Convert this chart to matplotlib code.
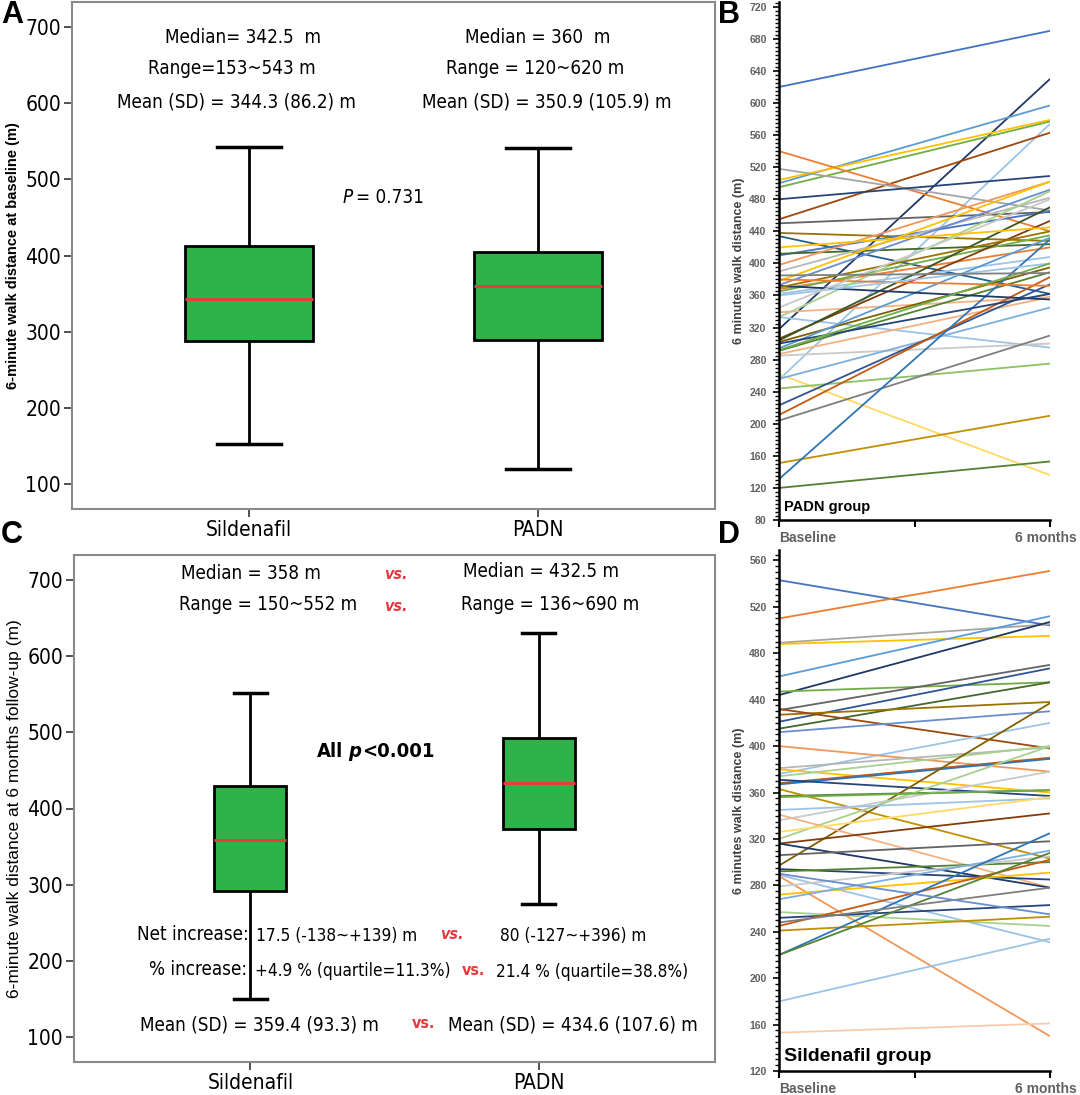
import os
import matplotlib
matplotlib.use("Agg")
import matplotlib.pyplot as plt
from matplotlib import font_manager
from matplotlib.font_manager import FontProperties
from matplotlib.ticker import MultipleLocator

# ---------------- data ----------------
groups = ["Sildenafil", "PADN"]

# Panel A: baseline 6MWD box stats
base_whislo = [153, 120]
base_q1 = [288, 289]
base_med = [342.5, 360]
base_q3 = [412, 404]
base_whishi = [543, 541]

# Panel C: 6-month 6MWD box stats
fu_whislo = [150, 275]
fu_q1 = [291, 373]
fu_med = [358, 433]
fu_q3 = [430, 492]
fu_whishi = [552, 630]

# Panel B: PADN group individual trajectories
padn_base = [620, 318, 500, 504, 495, 255, 455, 540, 518, 480, 450, 438, 434, 410, 412,
             398, 390, 378, 373, 368, 365, 362, 339, 333, 333, 306, 304, 302, 294, 291,
             287, 285, 262, 256, 244, 223, 211, 204, 151, 131, 120, 372, 370, 380, 360,
             345, 300, 292, 420, 385]
padn_6m = [690, 630, 597, 579, 577, 574, 563, 440, 466, 509, 464, 428, 362, 465, 424,
           502, 482, 502, 492, 420, 435, 408, 358, 490, 295, 453, 470, 395, 432, 389,
           358, 300, 136, 345, 275, 374, 383, 310, 210, 430, 153, 355, 440, 372, 400,
           480, 362, 400, 445, 388]
padn_colors = ["#4472C4", "#203864", "#5B9BD5", "#FFC000", "#70AD47", "#9DC3E6", "#9E480E",
               "#ED7D31", "#A5A5A5", "#264478", "#636363", "#997300", "#255E91", "#4472C4",
               "#43682B", "#F1975A", "#B7B7B7", "#FFC000", "#698ED0", "#ED7D31", "#70AD47",
               "#9DC3E6", "#F4B183", "#A9D18E", "#9DC3E6", "#843C0C", "#375623", "#7F6000",
               "#5B9BD5", "#548235", "#F4B183", "#C9C9C9", "#FFD966", "#7CAFDD", "#8CC168",
               "#2F5597", "#C55A11", "#7F7F7F", "#BF9000", "#2E75B6", "#548235", "#1F3864",
               "#997300", "#ED7D31", "#9DC3E6", "#C9C9C9", "#264478", "#70AD47", "#FFC000",
               "#7F7F7F"]

# Panel D: Sildenafil group individual trajectories
sil_base = [543, 510, 489, 488, 460, 444, 447, 431, 421, 415, 427, 432, 412, 376, 400,
            381, 380, 374, 368, 367, 371, 357, 363, 297, 336, 320, 345, 341, 326, 316,
            316, 306, 294, 292, 289, 288, 279, 272, 268, 257, 252, 245, 241, 220, 220,
            180, 153, 248, 290, 356]
sil_6m = [504, 551, 505, 495, 512, 507, 455, 470, 467, 455, 438, 398, 430, 420, 378,
          399, 360, 400, 390, 389, 357, 362, 303, 437, 378, 400, 355, 278, 356, 342,
          278, 318, 285, 300, 231, 150, 305, 291, 310, 245, 263, 302, 253, 325, 308,
          234, 161, 278, 255, 362]
sil_colors = ["#4472C4", "#ED7D31", "#A5A5A5", "#FFC000", "#5B9BD5", "#203864", "#70AD47",
              "#636363", "#2F5597", "#43682B", "#997300", "#9E480E", "#698ED0", "#9DC3E6",
              "#F1975A", "#B7B7B7", "#FFC000", "#A9D18E", "#C55A11", "#2E75B6", "#264478",
              "#548235", "#BF9000", "#7F6000", "#C9C9C9", "#A9D18E", "#9DC3E6", "#F4B183",
              "#FFD966", "#843C0C", "#1F3864", "#636363", "#264478", "#548235", "#9DC3E6",
              "#F1975A", "#C9C9C9", "#FFC000", "#7CAFDD", "#A9D18E", "#264478", "#C55A11",
              "#BF9000", "#2E75B6", "#548235", "#9DC3E6", "#F8CBAD", "#7F7F7F", "#698ED0",
              "#70AD47"]

time_labels = ["Baseline", "6 months"]

# ---------------- fonts ----------------
names = {f.name for f in font_manager.fontManager.ttflist}
SANS = "Liberation Sans" if "Liberation Sans" in names else "DejaVu Sans"
SF = [SANS, "DejaVu Sans"]


def find_font(keys):
    for key in keys:
        for f in font_manager.fontManager.ttflist:
            if os.path.basename(f.fname).lower() == key.lower():
                return f.fname
    return None


COND = {
    "r": find_font(["LiberationSansNarrow-Regular.ttf", "DejaVuSansCondensed.ttf"]),
    "b": find_font(["LiberationSansNarrow-Bold.ttf", "DejaVuSansCondensed-Bold.ttf"]),
    "i": find_font(["LiberationSansNarrow-Italic.ttf", "DejaVuSansCondensed-Oblique.ttf"]),
    "bi": find_font(["LiberationSansNarrow-BoldItalic.ttf",
                     "DejaVuSansCondensed-BoldOblique.ttf"]),
}


def nfp(size, kind="r"):
    path = COND.get(kind)
    if path:
        return FontProperties(fname=path, size=size)
    return FontProperties(family=SF, size=size * 0.86,
                          weight="bold" if "b" in kind else "normal",
                          style="italic" if "i" in kind else "normal")


W, H = 1080, 1095
fig = plt.figure(figsize=(W / 100, H / 100), dpi=100)


def fax(l, t, r, b):
    return fig.add_axes([l / W, 1 - b / H, (r - l) / W, (b - t) / H])


GREEN = "#2DB34A"
RED = "#E0403A"
VSRED = "#E8383D"


def rich(ax, x, y, parts):
    """parts: list of (string, fontprops, color, gap_points)"""
    s, fp, col, _ = parts[0]
    prev = ax.text(x, y, s, fontproperties=fp, color=col, ha="left", va="center")
    for s, fp, col, gap in parts[1:]:
        prev = ax.annotate(s, xy=(1, 0), xycoords=prev, xytext=(gap, 0),
                           textcoords="offset points", fontproperties=fp, color=col,
                           ha="left", va="bottom")


def boxpanel(ax, whislo, q1, med, q3, whishi, width, capw):
    stats = []
    for i in range(len(groups)):
        stats.append(dict(whislo=whislo[i], q1=q1[i], med=med[i], q3=q3[i],
                          whishi=whishi[i], fliers=[]))
    ax.bxp(stats, positions=[1, 2], widths=width, capwidths=capw, patch_artist=True,
           showfliers=False,
           boxprops=dict(facecolor=GREEN, edgecolor="black", linewidth=2),
           medianprops=dict(color=RED, linewidth=2.2),
           whiskerprops=dict(color="black", linewidth=2),
           capprops=dict(color="black", linewidth=2.5))
    ax.set_xlim(0.3875, 2.6125)
    ax.set_ylim(67, 733)
    ax.set_yticks([100, 200, 300, 400, 500, 600, 700])
    ax.set_xticks([1, 2])
    ax.set_xticklabels(groups)
    for lab in ax.get_xticklabels() + ax.get_yticklabels():
        lab.set_fontproperties(nfp(15))
    ax.tick_params(axis="both", direction="out", length=6, width=1.2, color="#333333", pad=2)
    for s in ax.spines.values():
        s.set_color("#8a8a8a")
        s.set_linewidth(1.5)


MAIN = 13.5
NUM = 12.3

# ---------------- Panel A ----------------
axA = fax(72, 2, 715, 509)
boxpanel(axA, base_whislo, base_q1, base_med, base_q3, base_whishi, 0.44, 0.22)
axA.set_ylabel("6-minute walk distance at baseline (m)", fontfamily=SF, fontweight="bold",
               fontsize=10.5, labelpad=4)
tA = dict(fontproperties=nfp(MAIN), ha="center", va="center")
axA.text(0.98, 686, "Median= 342.5  m", **tA)
axA.text(0.94, 646, "Range=153~543 m", **tA)
axA.text(0.955, 601, "Mean (SD) = 344.3 (86.2) m", **tA)
axA.text(2.0, 686, "Median = 360  m", **tA)
axA.text(1.99, 646, "Range = 120~620 m", **tA)
axA.text(2.03, 601, "Mean (SD) = 350.9 (105.9) m", **tA)
rich(axA, 1.322, 476, [("P", nfp(MAIN, "i"), "black", 0),
                       ("= 0.731", nfp(MAIN), "black", 3)])

# ---------------- Panel C ----------------
axC = fax(74, 555, 715, 1062)
boxpanel(axC, fu_whislo, fu_q1, fu_med, fu_q3, fu_whishi, 0.25, 0.115)
axC.set_ylabel("6-minute walk distance at 6 months follow-up (m)", fontfamily=SF,
               fontsize=12.5, labelpad=4)
tC = dict(fontproperties=nfp(MAIN), va="center")
tN = dict(fontproperties=nfp(NUM), va="center")
vs_i = dict(fontproperties=nfp(11.5, "bi"), color=VSRED, va="center", ha="center")
vs_n = dict(fontproperties=nfp(11.5, "b"), color=VSRED, va="center", ha="center")
axC.text(1.0, 709, "Median = 358 m", ha="center", **tC)
axC.text(1.503, 707, "vs.", **vs_i)
axC.text(2.01, 711, "Median = 432.5 m", ha="center", **tC)
axC.text(1.06, 668, "Range = 150~552 m", ha="center", **tC)
axC.text(1.503, 665, "vs.", **vs_i)
axC.text(2.04, 668, "Range = 136~690 m", ha="center", **tC)
rich(axC, 1.229, 475, [("All", nfp(14.5, "b"), "black", 0),
                       ("p", nfp(14.5, "bi"), "black", 4),
                       ("<0.001", nfp(14.5, "b"), "black", 0.5)])
axC.text(0.995, 234, "Net increase:", ha="right", **tC)
axC.text(1.02, 232, "17.5 (-138~+139) m", ha="left", **tN)
axC.text(1.70, 234, "vs.", **vs_i)
axC.text(1.865, 232, "80 (-127~+396) m", ha="left", **tN)
axC.text(0.988, 189, "% increase:", ha="right", **tC)
axC.text(1.017, 186, "+4.9 % (quartile=11.3%)", ha="left", **tN)
axC.text(1.774, 187, "vs.", **vs_n)
axC.text(1.854, 185, "21.4 % (quartile=38.8%)", ha="left", **tN)
axC.text(1.03, 116, "Mean (SD) = 359.4 (93.3) m", ha="center", **tC)
axC.text(1.60, 118, "vs.", **vs_n)
axC.text(2.12, 116, "Mean (SD) = 434.6 (107.6) m", ha="center", **tC)


# ---------------- spaghetti panels ----------------
def spaghetti(ax, base, six, colors, ylim, group_label, gl_size):
    for b, s, c in zip(base, six, colors):
        ax.plot([0, 1], [b, s], color=c, linewidth=1.3, solid_capstyle="butt")
    ax.set_xlim(0, 1)
    ax.set_ylim(*ylim)
    ax.spines["top"].set_visible(False)
    ax.spines["right"].set_visible(False)
    ax.spines["left"].set_linewidth(1.8)
    ax.spines["bottom"].set_linewidth(1.8)
    ax.yaxis.set_major_locator(MultipleLocator(40))
    ax.yaxis.set_minor_locator(MultipleLocator(5))
    ax.set_xticks([0, 0.5, 1])
    ax.set_xticklabels([])
    ax.tick_params(axis="y", which="major", length=4, width=1.2, labelsize=7.5, pad=5,
                   labelcolor="#606060")
    ax.tick_params(axis="y", which="minor", length=3, width=1.0)
    ax.tick_params(axis="x", length=5, width=1.5)
    for lab in ax.get_yticklabels():
        lab.set_fontfamily(SF)
        lab.set_fontweight("bold")
    ax.set_ylabel("6 minutes walk distance (m)", fontfamily=SF, fontweight="bold",
                  fontsize=9, color="#404040", labelpad=3)
    ax.text(0.02, 0.012, group_label, transform=ax.transAxes, fontfamily=SF,
            fontweight="bold", fontsize=gl_size, ha="left", va="bottom")
    ax.text(0.0, -0.022, time_labels[0], transform=ax.transAxes, fontfamily=SF,
            fontweight="bold", fontsize=10, color="#606060", ha="left", va="top")
    ax.text(1.1, -0.022, time_labels[1], transform=ax.transAxes, fontfamily=SF,
            fontweight="bold", fontsize=10, color="#606060", ha="right", va="top")


axB = fax(779, 2, 1050, 520)
spaghetti(axB, padn_base, padn_6m, padn_colors, (80, 726), "PADN group", 10.5)

axD = fax(779, 550, 1050, 1071)
spaghetti(axD, sil_base, sil_6m, sil_colors, (120, 569), "Sildenafil group", 14)

# ---------------- panel letters ----------------
lt = dict(fontfamily=SF, fontweight="bold", fontsize=22, va="top", ha="left")
fig.text(1 / W, 1 - 0 / H, "A", **lt)
fig.text(718 / W, 1 - 0 / H, "B", **lt)
fig.text(1 / W, 1 - 520 / H, "C", **lt)
fig.text(718 / W, 1 - 520 / H, "D", **lt)

fig.savefig("out.png", dpi=100, facecolor="white")
